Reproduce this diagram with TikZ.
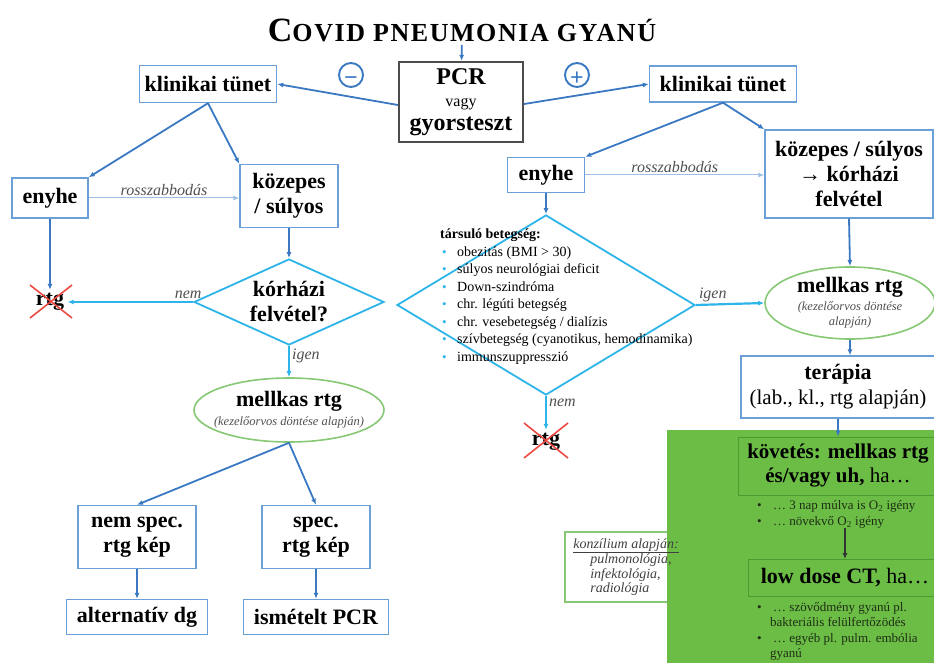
\documentclass[tikz,border=0pt]{standalone}
\usepackage{fontspec}
\setmainfont{Liberation Serif}
\usetikzlibrary{shapes.geometric,arrows.meta,positioning}
\pgfdeclarelayer{back}
\pgfdeclarelayer{bg}
\pgfsetlayers{back,bg,main}

\definecolor{boxblue}{HTML}{6A9FD8}
\definecolor{lineblue}{HTML}{3A78C2}
\definecolor{paleblue}{HTML}{9DBFE6}
\definecolor{decblue}{HTML}{2DB4E8}
\definecolor{ellgreen}{HTML}{86C873}
\definecolor{panelgreen}{HTML}{6CBD45}
\definecolor{framegreen}{HTML}{4A9B30}
\definecolor{crossred}{HTML}{EC4A43}
\definecolor{notegray}{HTML}{505050}
\definecolor{bullgreen}{HTML}{1E2E16}

\newcommand{\fs}[2]{\fontsize{#1}{#2}\selectfont}
\newcommand{\notefont}{\mdseries\itshape\fs{12.5}{14}\color{notegray}}
\newcommand{\rbul}{\hspace*{2pt}\makebox[15pt][l]{\textcolor{decblue}{\fs{13}{13}•}}}
\newcommand{\gbul}{\makebox[16pt][l]{•}}

\begin{document}
\begin{tikzpicture}[x=1pt, y=-1pt, >={Latex[length=6pt,width=5pt]},
  box/.style={draw=boxblue, line width=1.4pt, fill=white, align=center, font=\bfseries\fs{22}{25}, inner sep=2pt},
  pcrbox/.style={draw=black!70, line width=2.2pt, fill=white, align=center, font=\bfseries\fs{24}{26}, inner sep=2pt},
  decision/.style={diamond, draw=decblue, line width=1.8pt, aspect=2.2, inner sep=0pt, align=center, font=\bfseries\fs{22}{25}},
  oval/.style={ellipse, draw=ellgreen, line width=1.6pt, fill=white, align=center, font=\bfseries\fs{22}{25}, inner sep=0pt},
  greenbox/.style={draw=framegreen, line width=0.8pt, align=center, font=\bfseries\fs{21}{24}, inner sep=2pt},
  sign/.style={circle, draw=lineblue, line width=1.9pt, text=lineblue, minimum size=24pt, inner sep=0pt,
    text height=12pt, text depth=0pt, font=\bfseries\fs{24}{24}},
  arr/.style={->, draw=lineblue, line width=1.8pt},
  thinarr/.style={->, draw=paleblue, line width=1pt},
  decarr/.style={->, draw=decblue, line width=2.2pt},
  lbl/.style={font=\itshape\fs{16}{16}, text=notegray, inner sep=2pt},
  crossed/.style={draw=crossred, line width=1.6pt}
]
\useasboundingbox (0,0) rectangle (934,663);

% title and test
\node (title) at (462,30) {\bfseries\fs{34}{34}C\fs{26}{26}\addfontfeature{LetterSpace=6}OVID PNEUMONIA GYANÚ};
\node[pcrbox, minimum width=124pt, minimum height=80pt] (pcr) at (461,102) {PCR\\[-4pt]{\mdseries\fs{16}{16}vagy}\\[-2pt]gyorsteszt};
\node[sign] (minus) at (351,75) {\raisebox{-4.5pt}{−}};
\node[sign] (plus) at (577,75) {\raisebox{-4.5pt}{+}};

% negative branch
\node[box, minimum width=137pt, minimum height=37pt] (klinL) at (208,84) {klinikai tünet};
\node[box, minimum width=76pt, minimum height=40pt] (enyheL) at (50,198) {enyhe};
\node[box, minimum width=98pt, minimum height=63pt] (kozL) at (289,196) {közepes\\/ súlyos};
\node[font=\bfseries\fs{22}{25}] (rtgL) at (50,302) {rtg};
\node[decision, minimum width=190pt, minimum height=86pt] (decL) at (289,302) {kórházi\\felvétel?};
\node[oval, minimum width=190pt, minimum height=64pt, inner xsep=-22pt] (ellL) at (289,410) {mellkas rtg\\[-6pt]{\notefont(kezelőorvos döntése alapján)}};
\node[box, minimum width=118pt, minimum height=63pt] (nsL) at (137,537) {nem spec.\\rtg kép};
\node[box, minimum width=108pt, minimum height=63pt] (sL) at (316,537) {spec.\\rtg kép};
\node[box, minimum width=141pt, minimum height=35pt] (altdg) at (137,617) {alternatív dg};
\node[box, minimum width=145pt, minimum height=35pt] (ismpcr) at (316,617) {ismételt PCR};

% positive branch
\node[box, minimum width=147pt, minimum height=36pt] (klinR) at (723,84) {klinikai tünet};
\node[box, minimum width=77pt, minimum height=35pt] (enyheR) at (546,175) {enyhe};
\node[box, minimum width=168pt, minimum height=88pt] (kozR) at (849,174) {közepes / súlyos\\→ kórházi\\felvétel};
\node[decision, minimum width=298pt, minimum height=180pt] (decR) at (546,305) {};
\node[anchor=north west, align=left, inner sep=0pt, font=\fs{14}{17.5}] (risk) at (440,229) {{\bfseries társuló betegség:}\\
  \rbul obezitás (BMI > 30)\\
  \rbul súlyos neurológiai deficit\\
  \rbul Down-szindróma\\
  \rbul chr. légúti betegség\\
  \rbul chr. vesebetegség / dialízis\\
  \rbul szívbetegség (cyanotikus, hemodinamika)\\
  \rbul immunszuppresszió};
\node[font=\bfseries\fs{22}{25}] (rtgR) at (546,442) {rtg};
\node[oval, minimum width=170pt, minimum height=66pt] (ellR) at (850,303) {mellkas rtg\\[-7pt]{\notefont(kezelőorvos döntése}\\[-10pt]{\notefont alapján)}};
\node[box, minimum width=194pt, minimum height=62pt] (ter) at (838,387) {terápia\\{\mdseries\fs{21}{24}(lab., kl., rtg alapján)}};

% follow-up panel
\begin{pgfonlayer}{bg}
  \fill[panelgreen] (667,430) rectangle (934,663);
\end{pgfonlayer}
\node[greenbox, minimum width=200pt, minimum height=58pt] (kov) at (838,466) {követés: mellkas rtg\\és/vagy uh, {\mdseries ha…}};
\node[anchor=north west, align=left, inner sep=0pt, font=\fs{13}{16}, text=bullgreen] (kovlist) at (757,500) {\gbul… 3 nap múlva is O\textsubscript{2} igény\\\gbul… növekvő O\textsubscript{2} igény};
\node[greenbox, minimum width=194pt, minimum height=37pt, font=\bfseries\fs{22}{25}] (ldct) at (845,578) {low dose CT, {\mdseries ha…}};
\node[anchor=north west, align=left, inner sep=0pt, font=\fs{13}{15.5}, text=bullgreen] (ldctlist) at (757,602) {\gbul… szövődmény gyanú pl.\\\hspace*{13pt}bakteriális felülfertőzödés\\\gbul… egyéb pl. pulm. embólia\\\hspace*{13pt}gyanú};
\node[align=left, inner xsep=8pt, inner ysep=6pt, font=\itshape\fs{14}{14.5}, text=black!75] (konz) at (626,567) {\underline{konzílium alapján:}\\\hspace*{17pt}pulmonológia,\\\hspace*{17pt}infektológia,\\\hspace*{17pt}radiológia};
\begin{pgfonlayer}{back}
  \draw[ellgreen, line width=1.4pt, fill=white] (konz.north west) rectangle (konz.south east);
\end{pgfonlayer}

% connectors
\draw[arr] (title) -- (pcr);
\draw[arr] ([yshift=-3pt]pcr.west) -- (klinL.east);
\draw[arr] ([yshift=-2pt]pcr.east) -- (klinR.west);
\draw[arr] (klinL.south) -- (enyheL.north east);
\draw[arr] (klinL.south) -- (kozL.north west);
\draw[thinarr] (enyheL.east) -- (enyheL.east -| kozL.west) node[midway, above, lbl] {rosszabbodás};
\draw[arr] (enyheL) -- (rtgL);
\draw[arr] (kozL) -- (decL);
\draw[decarr] (decL.west) -- (rtgL.east) node[at start, above, xshift=-5pt, lbl] {nem};
\draw[decarr] (decL.south) -- (ellL.north) node[at start, below right, lbl] {igen};
\draw[arr] (ellL.south) -- (nsL.north);
\draw[arr] (ellL.south) -- (sL.north);
\draw[arr] (nsL) -- (altdg);
\draw[arr] (sL) -- (ismpcr);

\draw[arr] (klinR.south) -- (enyheR.north east);
\draw[arr] (klinR.south) -- (kozR.north west);
\draw[thinarr] (enyheR.east) -- (enyheR.east -| kozR.west) node[midway, above, lbl] {rosszabbodás};
\draw[arr] (enyheR) -- (decR);
\draw[decarr] (decR.east) -- (ellR.west) node[at start, above right, lbl] {igen};
\draw[decarr] (decR.south) -- (rtgR.north) node[at start, below right, lbl] {nem};
\draw[arr] (kozR.south) -- (ellR.north);
\draw[arr] (ellR.south) -- (ellR.south |- ter.north);
\draw[arr] (ter.south) -- (kov.north);
\draw[->, draw=black!80, line width=1.5pt] (kovlist.south -| ldct.north) -- (ldct.north);

% crossed out
\draw[crossed] ([xshift=-20pt,yshift=17pt]rtgL.center) -- ([xshift=22pt,yshift=-16pt]rtgL.center);
\draw[crossed] ([xshift=22pt,yshift=17pt]rtgL.center) -- ([xshift=-20pt,yshift=-16pt]rtgL.center);
\draw[crossed] ([xshift=-22pt,yshift=19pt]rtgR.center) -- ([xshift=22pt,yshift=-16pt]rtgR.center);
\draw[crossed] ([xshift=22pt,yshift=19pt]rtgR.center) -- ([xshift=-22pt,yshift=-16pt]rtgR.center);
\end{tikzpicture}
\end{document}
